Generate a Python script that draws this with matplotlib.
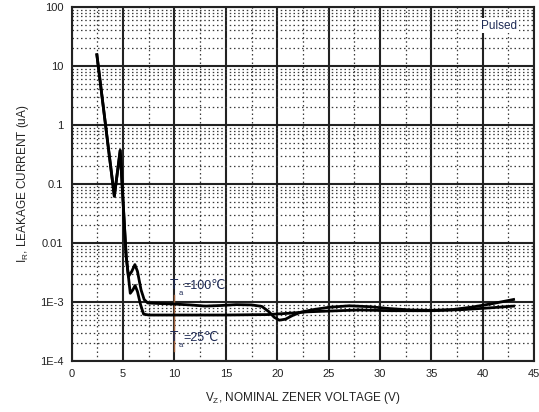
import matplotlib
matplotlib.use('Agg')
import matplotlib.pyplot as plt
from matplotlib.ticker import FixedLocator, NullFormatter

plt.rcParams['font.family'] = ['Liberation Sans', 'DejaVu Sans']

# shared part of both curves (high leakage region)
vz_shared = [2.45, 4.15, 4.72, 5.3]
ir_shared = [15.5, 0.062, 0.37, 0.0060]

# Ta = 100C
vz_100 = [5.52, 5.85, 6.15, 6.4, 6.75, 7.05, 7.4, 8.5, 10, 11.5, 13, 14.5, 16, 17.5,
          18.5, 19.2, 19.7, 20.2, 20.8, 21.5, 22.3, 23.5, 25, 27, 29, 31, 33, 35, 37,
          39, 41, 43]
ir_100 = [0.0027, 0.0033, 0.0043, 0.0033, 0.0016, 0.0011, 0.00096, 0.00094, 0.00092,
          0.00089, 0.00085, 0.00087, 0.0009, 0.00089, 0.00084, 0.00068, 0.00055,
          0.00049, 0.00051, 0.00059, 0.00067, 0.00074, 0.00081, 0.00086, 0.00083,
          0.00077, 0.00073, 0.00072, 0.00074, 0.00082, 0.00094, 0.0011]

# Ta = 25C
vz_25 = [5.7, 5.95, 6.17, 6.4, 6.7, 7.0, 7.5, 10, 15, 19, 21, 23, 25, 28, 31, 35,
         38, 41, 43]
ir_25 = [0.0014, 0.0016, 0.0019, 0.0015, 0.0009, 0.00062, 0.0006, 0.0006, 0.0006,
         0.00061, 0.00064, 0.00068, 0.0007, 0.00073, 0.00071, 0.00071, 0.00074,
         0.0008, 0.00085]

x_ticks = [0, 5, 10, 15, 20, 25, 30, 35, 40, 45]
y_ticks = [1e-4, 1e-3, 1e-2, 1e-1, 1, 10, 100]
y_tick_labels = ['1E-4', '1E-3', '0.01', '0.1', '1', '10', '100']

ink = '#222222'
label_blue = '#1e2a55'

fig = plt.figure(figsize=(5.39, 4.12), dpi=100)
ax = fig.add_axes([0.133, 0.124, 0.858, 0.859])
ax.set_yscale('log')
ax.set_xlim(0, 45)
ax.set_ylim(1e-4, 100)

# grid: major solid, minor dotted
ax.set_xticks(x_ticks)
ax.xaxis.set_minor_locator(FixedLocator([t + 2.5 for t in x_ticks[:-1]]))
ax.set_yticks(y_ticks)
ax.set_yticklabels(y_tick_labels)
minor_y = [m * 10.0 ** e for e in range(-4, 2) for m in range(2, 10)]
ax.yaxis.set_minor_locator(FixedLocator(minor_y))
ax.yaxis.set_minor_formatter(NullFormatter())
ax.grid(True, which='major', color=ink, lw=1.5, ls='-')
ax.grid(True, which='minor', color='#3a3a3a', lw=0.9, ls=(0, (1.2, 2.2)))
ax.set_axisbelow(True)
ax.tick_params(which='both', length=0)
ax.tick_params(axis='both', labelsize=8, colors=ink, pad=6)

for s in ax.spines.values():
    s.set_color(ink)
    s.set_linewidth(1.5)

# curves
ax.plot(vz_shared + vz_100, ir_shared + ir_100, color='black', lw=2.0, solid_joinstyle='round')
ax.plot(vz_shared + vz_25, ir_shared + ir_25, color='black', lw=2.0, solid_joinstyle='round')

# label leader line
ax.plot([9.95, 9.95], [0.00015, 0.0013], color='#a0603a', lw=1.0, zorder=1.5)


def temp_label(x, y, rest):
    ax.text(x, y, 'T', fontsize=10, color=label_blue, va='center', ha='left', zorder=6)
    ax.annotate('a', xy=(x, y), xytext=(6, -5.5), textcoords='offset points',
                fontsize=5.5, color=label_blue, va='center', ha='left', zorder=6)
    ax.annotate(rest, xy=(x, y), xytext=(9.5, 0), textcoords='offset points',
                fontsize=9, color=label_blue, va='center', ha='left', zorder=5)


temp_label(9.55, 0.0019, '=100\u2103')
temp_label(9.55, 0.00025, '=25\u2103')

ax.text(41.6, 48, 'Pulsed', fontsize=8.5, color=label_blue, ha='center', va='center',
        bbox=dict(facecolor='white', edgecolor='none', pad=1))

ax.set_xlabel('V$_{\\mathregular{Z}}$, NOMINAL ZENER VOLTAGE (V)', fontsize=8.5, color=ink, labelpad=8)
ax.set_ylabel('I$_{\\mathregular{R}}$, LEAKAGE CURRENT (uA)', fontsize=8.5, color=ink, labelpad=6)

fig.savefig('out.png', dpi=100)
